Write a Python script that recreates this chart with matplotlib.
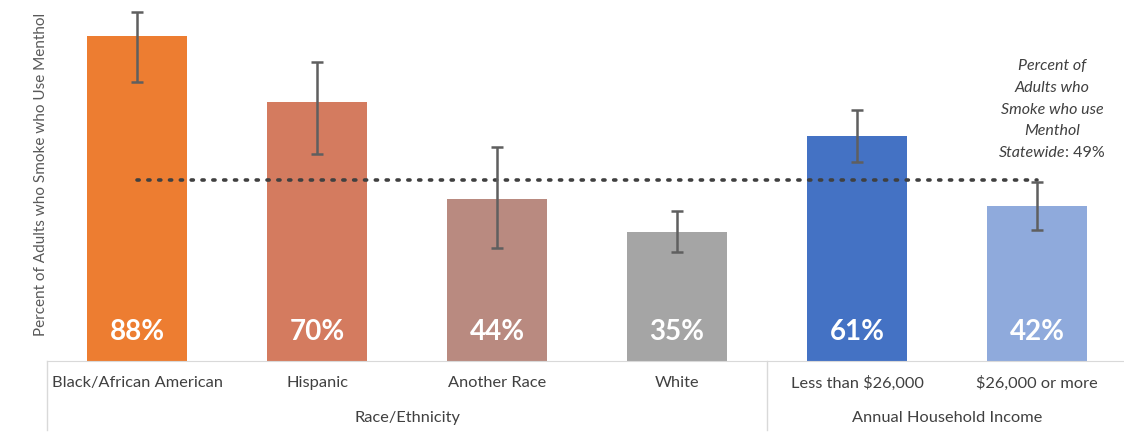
import matplotlib.pyplot as plt
import matplotlib.transforms as mtransforms

plt.rcParams['font.family'] = ['Lato', 'DejaVu Sans']

categories = ['Black/African American', 'Hispanic', 'Another Race', 'White',
              'Less than $26,000', '$26,000 or more']
values = [88, 70, 44, 35, 61, 42]
err_low = [75.5, 56, 30.5, 29.5, 54, 35.5]
err_high = [94.5, 81, 58, 40.5, 68, 48.5]
colors = ['#ED7D31', '#D47B5F', '#B98A80', '#A5A5A5', '#4472C4', '#8FAADC']
groups = ['Race/Ethnicity', 'Annual Household Income']
group_sizes = [4, 2]
statewide = 49
note_lines = ['Percent of', 'Adults who', 'Smoke who use', 'Menthol']

fig = plt.figure(figsize=(11.24, 4.37), dpi=100)
ax = fig.add_axes([47/1124, 1-361/437, 1080/1124, 361/437])

x = list(range(len(categories)))
yerr = [[v - lo for v, lo in zip(values, err_low)],
        [hi - v for v, hi in zip(values, err_high)]]
ax.bar(x, values, width=0.556, color=colors, zorder=2)
ax.errorbar(x, values, yerr=yerr, fmt='none', ecolor='#5f5f5f', elinewidth=1.8,
            capsize=4.5, capthick=1.8, zorder=4)

# statewide dotted line
ax.plot([0, len(categories)-1], [statewide, statewide], color='#404040', linestyle=(0, (0.6, 2.4)),
        linewidth=2.6, dash_capstyle='round', zorder=3)

for xi, v in zip(x, values):
    ax.text(xi, 7.8, f'{v}%', color='white', fontsize=20, fontweight='bold',
            ha='center', va='center', zorder=5)

ax.set_xlim(-0.5, len(categories)-0.5)
ax.set_ylim(0, 361/3.693)
for s in ['left', 'right', 'top']:
    ax.spines[s].set_visible(False)
ax.spines['bottom'].set_color('#D9D9D9')
ax.set_yticks([])
ax.set_xticks([])

ax.set_ylabel('Percent of Adults who Smoke who Use Menthol', fontsize=11.0, color='#595959')
ax.yaxis.set_label_coords(1/1080, 0.5 + 6/361)

# category and group labels below the axis
trans = mtransforms.blended_transform_factory(ax.transData, fig.transFigure)
for xi, c in zip(x, categories):
    ax.text(xi, 1-383/437, c, transform=trans, ha='center', va='center', fontsize=11.8, color='#404040')

start = 0
ax.plot([-0.5, -0.5], [1-361/437, 1-430/437], transform=trans, color='#D9D9D9', lw=1, clip_on=False)
for g, n in zip(groups, group_sizes):
    ax.text(start + (n-1)/2, 1-418/437, g, transform=trans, ha='center', va='center', fontsize=11.8, color='#404040')
    start += n
    ax.plot([start-0.5, start-0.5], [1-361/437, 1-430/437], transform=trans, color='#D9D9D9', lw=1, clip_on=False)

# statewide annotation
for i, line in enumerate(note_lines):
    ax.text(5.085, 1-(66.5 + 21.5*i)/437, line, transform=trans, ha='center', va='center',
            fontsize=11.5, style='italic', color='#404040')
ax.text(5.155, 1-153/437, 'Statewide', transform=trans, ha='right', va='center',
        fontsize=11.5, style='italic', color='#404040')
ax.text(5.155, 1-153/437, ': 49%', transform=trans, ha='left', va='center',
        fontsize=11.5, color='#404040')

fig.savefig('out.png', dpi=100)
